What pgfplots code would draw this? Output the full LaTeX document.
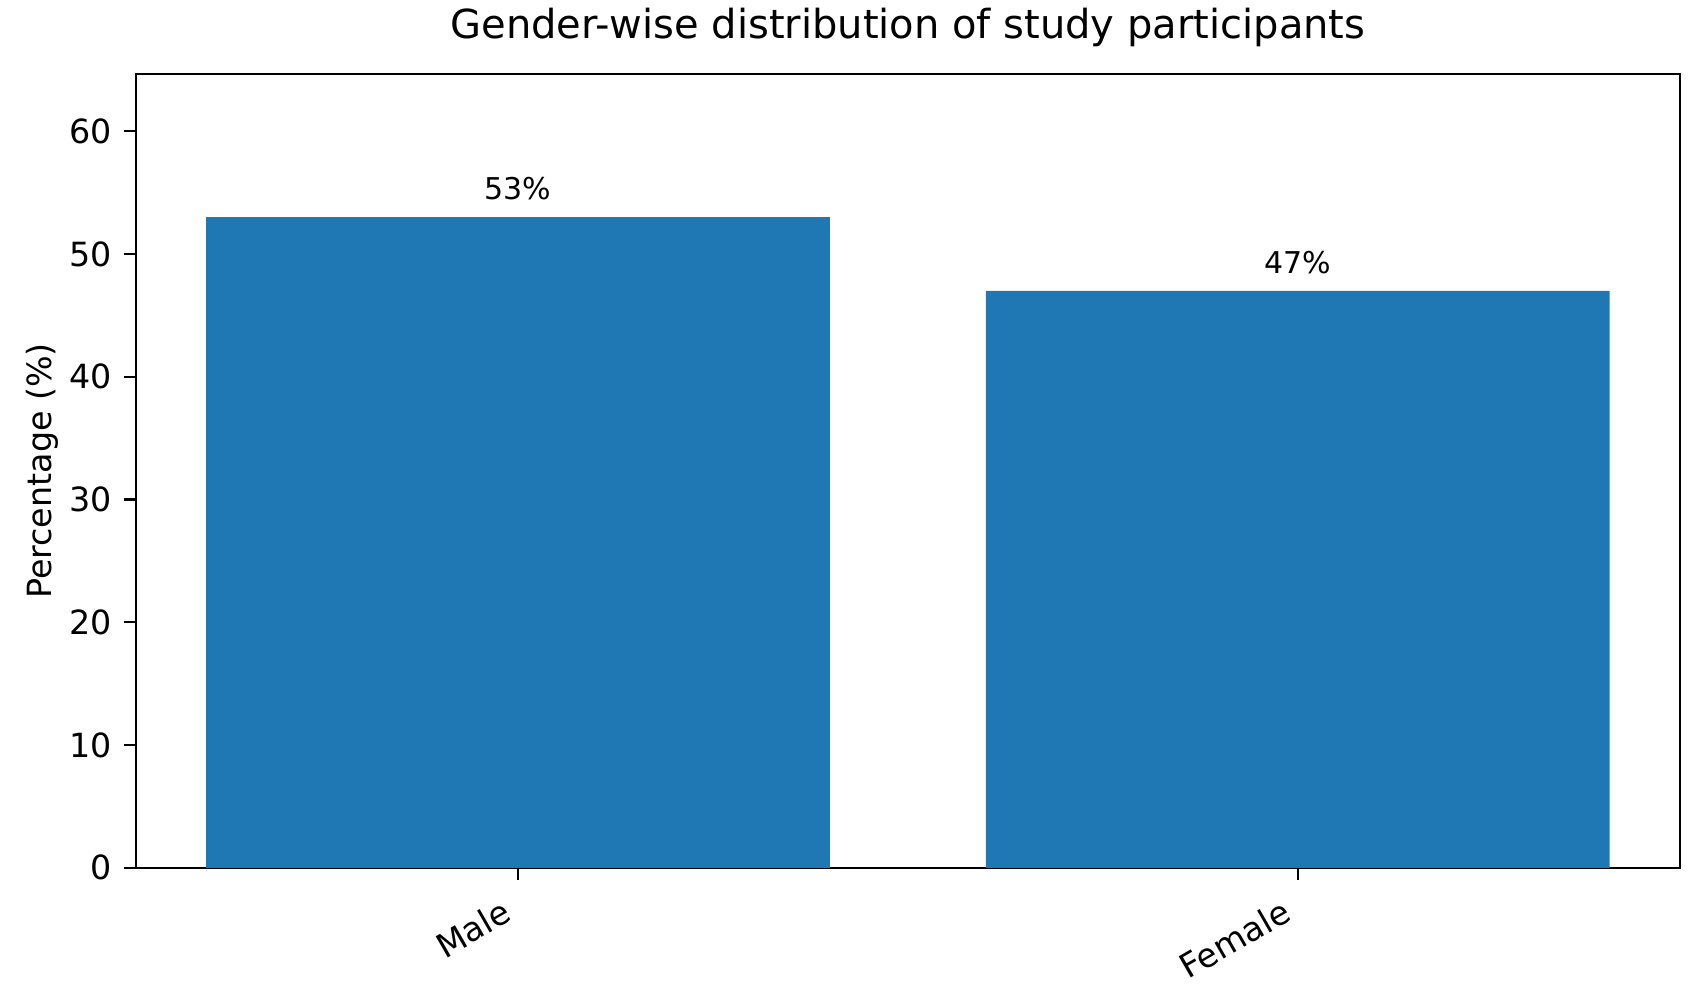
\documentclass[border=0pt]{standalone}
\usepackage{pgfplots}
\pgfplotsset{compat=1.18}
\usepackage{fontspec}
\setmainfont{DejaVu Sans}
\definecolor{mplblue}{HTML}{1F77B4}
\begin{document}
\begin{tikzpicture}
\useasboundingbox (0,0) rectangle (613.1pt,361.4pt);
\begin{axis}[
  at={(48.96pt,48.96pt)}, anchor=south west,
  scale only axis, width=555.8pt, height=285.8pt,
  xmin=-0.49, xmax=1.49, ymin=0, ymax=64.66,
  xtick={0,1}, xticklabels={Male,Female},
  ytick={0,10,20,30,40,50,60},
  xtick pos=bottom, ytick pos=left,
  tick align=outside, major tick length=4.2pt,
  every tick/.style={black, line width=0.8pt},
  axis line style={line width=0.8pt},
  /pgf/number format/assume math mode=true,
  tick label style={font=\fontsize{12}{14.4}\selectfont},
  yticklabel style={anchor=east, inner sep=0pt, xshift=-4.2pt},
  xticklabel style={anchor=base east, inner sep=0pt, xshift=-1.5pt, yshift=-14.3pt, rotate=30},
  ylabel={Percentage (\%)},
  ylabel style={font=\fontsize{12}{14.4}\selectfont, inner sep=0pt, at={(axis description cs:-0.0547,0.5)}, anchor=base},
  title={Gender-wise distribution of study participants},
  title style={font=\fontsize{14.4}{17}\selectfont, at={(axis description cs:0.5,1)}, anchor=base, inner sep=0pt, yshift=6.9pt},
  ybar, bar width=0.8, bar shift=0pt,
  nodes near coords={\pgfmathprintnumber{\pgfplotspointmeta}\%},
  every node near coord/.style={font=\fontsize{10.8}{13}\selectfont, black, anchor=base, inner sep=0pt, yshift=6.2pt},
]
\addplot[fill=mplblue, draw=none] coordinates {(0,53) (1,47)};
\end{axis}
\end{tikzpicture}
\end{document}
